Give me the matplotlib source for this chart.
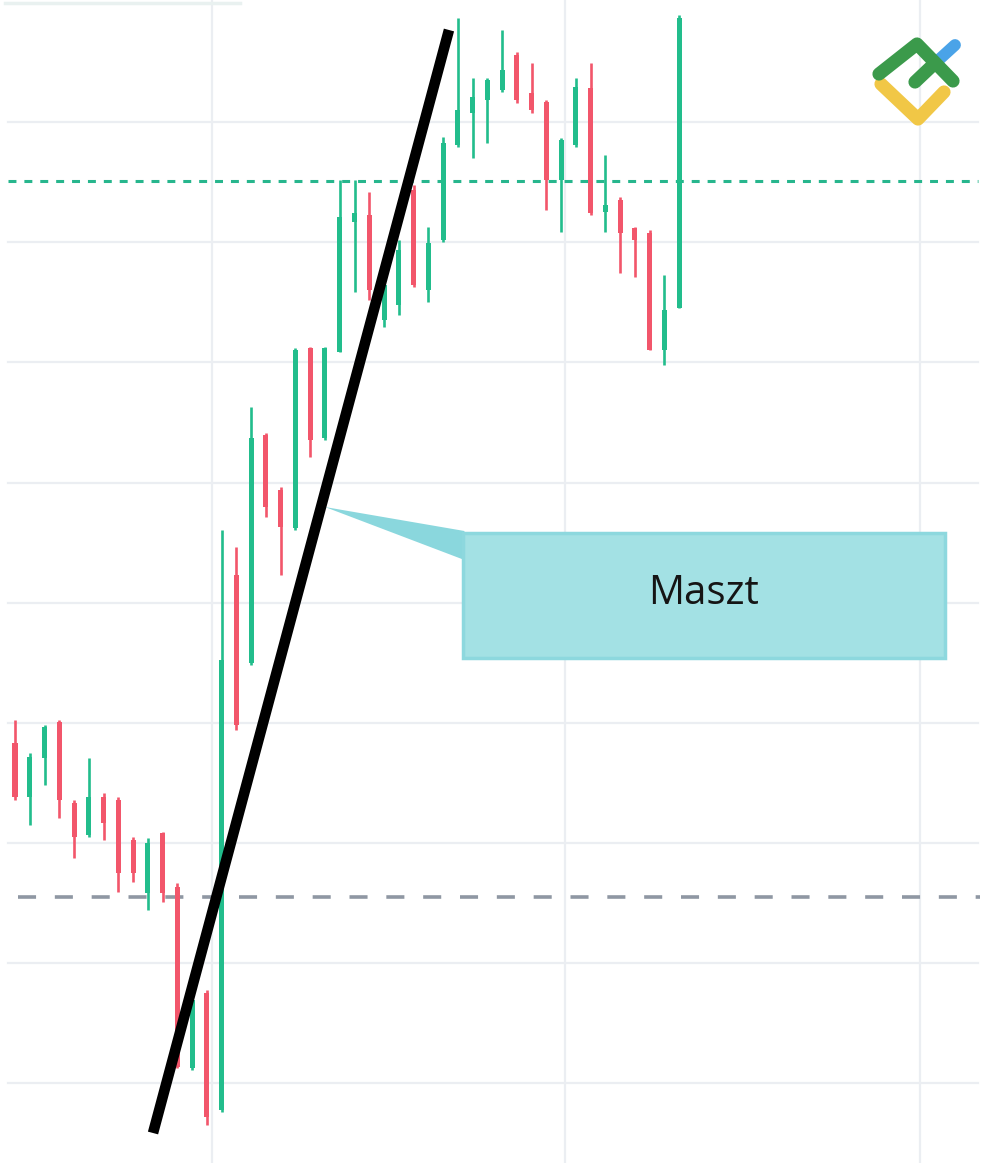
import matplotlib
matplotlib.use("Agg")
import matplotlib.pyplot as plt
from matplotlib.patches import Rectangle, Polygon

# ---------------- data (price units, arbitrary scale) ----------------
opens  = [420, 366, 405, 441, 360, 328, 366, 363, 323, 270, 330, 276, 95, 170, 53, 588,
          500, 728, 673, 635, 815, 725, 811, 941, 948, 843, 858, 973, 873, 923, 1018, 1050,
          1063, 1073, 1108, 1070, 1061, 983, 1018, 1075, 951, 963, 935, 930, 813, 855]
highs  = [443, 410, 438, 443, 363, 405, 370, 366, 326, 325, 331, 280, 178, 173, 633, 616,
          756, 730, 676, 815, 816, 816, 983, 983, 971, 908, 923, 978, 936, 1026, 1145, 1085,
          1085, 1133, 1111, 1100, 1063, 1025, 1085, 1100, 1008, 966, 936, 933, 888, 1148]
lows   = [363, 338, 378, 345, 305, 326, 323, 271, 281, 253, 261, 95, 93, 38, 51, 433,
          498, 646, 588, 633, 706, 723, 811, 871, 863, 836, 848, 876, 861, 921, 1016, 1005,
          1020, 1071, 1060, 1050, 953, 931, 1016, 948, 931, 890, 886, 813, 798, 855]
closes = [366, 406, 436, 363, 326, 366, 340, 290, 290, 320, 270, 96, 163, 46, 503, 438,
          725, 656, 636, 813, 723, 815, 946, 950, 873, 878, 913, 878, 920, 1020, 1053, 1066,
          1083, 1093, 1063, 1053, 983, 1023, 1076, 950, 958, 930, 923, 813, 853, 1145]

resistance_level = 982     # dotted green line
support_level = 266        # dashed grey line
grid_levels = [80, 200, 320, 440, 560, 680, 801, 921, 1041]
grid_x = [13.35, 37.26, 61.31]

mast_start = (9.35, 30)
mast_end = (29.40, 1133)
label_text = "Maszt"

# ---------------- style ----------------
GREEN = "#22bd8c"
RED = "#f2566b"
GRID = "#ebeef2"

fig = plt.figure(figsize=(10, 11.63), dpi=100)
ax = fig.add_axes([0, 0, 1, 1])
ax.set_xlim(-1.016, 66.73)
ax.set_ylim(0, 1163)
ax.axis("off")

# grid
for gx in grid_x:
    ax.axvline(gx, color=GRID, lw=1.6, zorder=0)
for gy in grid_levels:
    ax.axhline(gy, xmin=0.008, xmax=0.978, color=GRID, lw=1.6, zorder=0)
ax.axhline(1160, xmin=0.005, xmax=0.24, color="#e9f1f0", lw=2.5, zorder=0)

# level lines
ax.axhline(resistance_level, xmin=0.008, xmax=0.978, color="#27b68d", lw=2.2,
           linestyle=(0, (2.6, 2.6)), zorder=1)
ax.axhline(support_level, xmin=0.018, xmax=0.98, color="#8f97a3", lw=2.6,
           linestyle=(0, (5, 5.2)), zorder=1)

# candles
for i, (o, h, l, c) in enumerate(zip(opens, highs, lows, closes)):
    col = GREEN if c >= o else RED
    ax.vlines(i, l, h, color=col, lw=1.9, zorder=2)
    ax.bar(i, max(abs(c - o), 2), bottom=min(o, c), width=0.34, color=col,
           linewidth=0, zorder=2)

# mast line
ax.plot([mast_start[0], mast_end[0]], [mast_start[1], mast_end[1]], color="black",
        lw=7.6, solid_capstyle="butt", zorder=4)

# callout
box_x0, box_x1 = 30.35, 63.01
box_y0, box_y1 = 505, 630
tail = Polygon([(21.0, 656), (box_x0 + 0.1, 632), (box_x0 + 0.1, 603)], closed=True,
               facecolor="#8ad7dd", edgecolor="none", zorder=3)
ax.add_patch(tail)
ax.add_patch(Rectangle((box_x0, box_y0), box_x1 - box_x0, box_y1 - box_y0,
                       facecolor="#a3e1e4", edgecolor="#8dd8de", lw=2.5, zorder=3))
ax.text((box_x0 + box_x1) / 2, (box_y0 + box_y1) / 2 + 2, label_text,
        family=["Open Sans", "DejaVu Sans"], fontsize=29, color="#151515",
        ha="center", va="center", zorder=5)

# logo (figure pixel coordinates)
def fp(x, y):
    return x / 1000.0, 1 - y / 1163.0

def stroke(pts, color, lw=9.5):
    xs, ys = zip(*[fp(x, y) for x, y in pts])
    fig.add_artist(plt.Line2D(xs, ys, transform=fig.transFigure, color=color, lw=lw,
                              solid_capstyle="round", solid_joinstyle="round", zorder=10))

stroke([(932, 66), (955, 45)], "#4aa3e8", lw=8.5)
stroke([(881, 84), (918, 119), (944, 92)], "#f1c746")
stroke([(879, 74), (917, 44), (953, 81)], "#3b9a4b")
stroke([(915, 82), (934, 64)], "#3b9a4b")

fig.savefig("out.png", dpi=100)
